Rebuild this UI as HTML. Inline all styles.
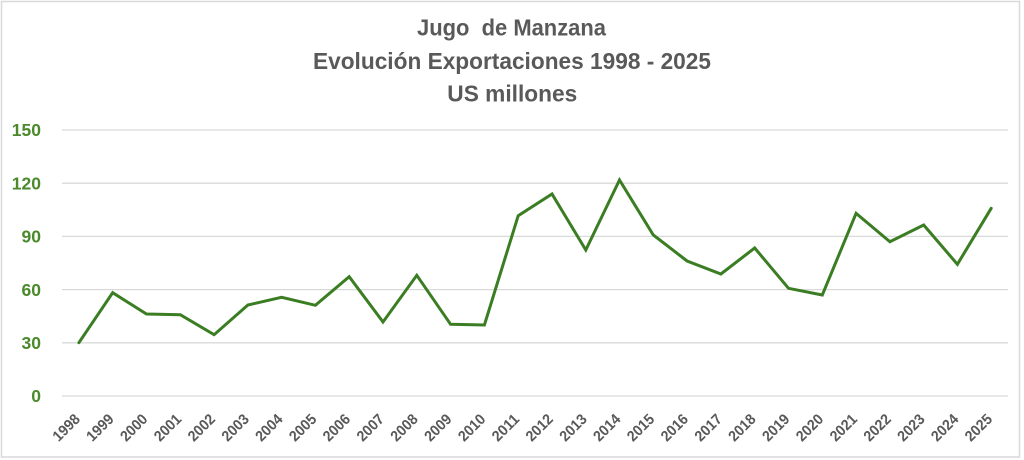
<!DOCTYPE html>
<html>
<head>
<meta charset="utf-8">
<style>
  html,body{margin:0;padding:0;background:#fff;}
  svg{display:block;}
  text{font-family:"Liberation Sans", Arial, sans-serif;}
</style>
</head>
<body>
<svg width="1024" height="460" viewBox="0 0 1024 460" xmlns="http://www.w3.org/2000/svg">
  <rect x="0" y="0" width="1024" height="460" fill="#fff"/>
  <rect x="1.5" y="1.5" width="1018" height="455.5" fill="#fff" stroke="#d9d9d9" stroke-width="1.5"/>

  <!-- Title -->
  <g fill="#595959" font-weight="bold" font-size="23" text-anchor="middle">
    <text x="511.5" y="35.7" textLength="189" lengthAdjust="spacingAndGlyphs" style="white-space:pre">Jugo  de Manzana</text>
    <text x="512" y="69" textLength="398" lengthAdjust="spacingAndGlyphs">Evolución Exportaciones 1998 - 2025</text>
    <text x="512.3" y="101.7" textLength="130" lengthAdjust="spacingAndGlyphs">US millones</text>
  </g>

  <!-- Gridlines -->
  <g stroke="#d9d9d9" stroke-width="1.3">
    <line x1="62" y1="130" x2="1008" y2="130"/>
    <line x1="62" y1="183.2" x2="1008" y2="183.2"/>
    <line x1="62" y1="236.4" x2="1008" y2="236.4"/>
    <line x1="62" y1="289.6" x2="1008" y2="289.6"/>
    <line x1="62" y1="342.8" x2="1008" y2="342.8"/>
    <line x1="62" y1="396" x2="1008" y2="396"/>
  </g>

  <!-- Y labels -->
  <g fill="#4a8a2c" font-weight="bold" font-size="17.5" text-anchor="end">
    <text x="41" y="136.2">150</text>
    <text x="41" y="189.4">120</text>
    <text x="41" y="242.6">90</text>
    <text x="41" y="295.8">60</text>
    <text x="41" y="349">30</text>
    <text x="41" y="402.2">0</text>
  </g>

  <!-- Series -->
  <polyline fill="none" stroke="#3a7d22" stroke-width="3" stroke-linejoin="miter" stroke-linecap="round"
    points="78.9,342.7 112.7,292.7 146.5,314 180.3,314.7 214.1,334.7 247.9,305 281.6,297.3 315.4,305.3 349.2,276.7 383.0,322 416.8,275.3 450.6,324.3 484.4,325 518.2,215.7 552.0,194 585.8,250 619.5,180 653.3,235 687.1,261 720.9,274 754.7,248 788.5,288.3 822.3,295 856.1,213.3 889.9,241.7 923.7,225 957.4,264.3 991.2,208.3"/>

  <!-- X labels -->
  <g fill="#595959" font-weight="bold" font-size="15" text-anchor="end">
    <text transform="translate(80.9,420) rotate(-45)" textLength="31.5" lengthAdjust="spacingAndGlyphs">1998</text>
    <text transform="translate(114.7,420) rotate(-45)" textLength="31.5" lengthAdjust="spacingAndGlyphs">1999</text>
    <text transform="translate(148.5,420) rotate(-45)" textLength="31.5" lengthAdjust="spacingAndGlyphs">2000</text>
    <text transform="translate(182.3,420) rotate(-45)" textLength="31.5" lengthAdjust="spacingAndGlyphs">2001</text>
    <text transform="translate(216.1,420) rotate(-45)" textLength="31.5" lengthAdjust="spacingAndGlyphs">2002</text>
    <text transform="translate(249.9,420) rotate(-45)" textLength="31.5" lengthAdjust="spacingAndGlyphs">2003</text>
    <text transform="translate(283.6,420) rotate(-45)" textLength="31.5" lengthAdjust="spacingAndGlyphs">2004</text>
    <text transform="translate(317.4,420) rotate(-45)" textLength="31.5" lengthAdjust="spacingAndGlyphs">2005</text>
    <text transform="translate(351.2,420) rotate(-45)" textLength="31.5" lengthAdjust="spacingAndGlyphs">2006</text>
    <text transform="translate(385.0,420) rotate(-45)" textLength="31.5" lengthAdjust="spacingAndGlyphs">2007</text>
    <text transform="translate(418.8,420) rotate(-45)" textLength="31.5" lengthAdjust="spacingAndGlyphs">2008</text>
    <text transform="translate(452.6,420) rotate(-45)" textLength="31.5" lengthAdjust="spacingAndGlyphs">2009</text>
    <text transform="translate(486.4,420) rotate(-45)" textLength="31.5" lengthAdjust="spacingAndGlyphs">2010</text>
    <text transform="translate(520.2,420) rotate(-45)" textLength="31.5" lengthAdjust="spacingAndGlyphs">2011</text>
    <text transform="translate(554.0,420) rotate(-45)" textLength="31.5" lengthAdjust="spacingAndGlyphs">2012</text>
    <text transform="translate(587.8,420) rotate(-45)" textLength="31.5" lengthAdjust="spacingAndGlyphs">2013</text>
    <text transform="translate(621.5,420) rotate(-45)" textLength="31.5" lengthAdjust="spacingAndGlyphs">2014</text>
    <text transform="translate(655.3,420) rotate(-45)" textLength="31.5" lengthAdjust="spacingAndGlyphs">2015</text>
    <text transform="translate(689.1,420) rotate(-45)" textLength="31.5" lengthAdjust="spacingAndGlyphs">2016</text>
    <text transform="translate(722.9,420) rotate(-45)" textLength="31.5" lengthAdjust="spacingAndGlyphs">2017</text>
    <text transform="translate(756.7,420) rotate(-45)" textLength="31.5" lengthAdjust="spacingAndGlyphs">2018</text>
    <text transform="translate(790.5,420) rotate(-45)" textLength="31.5" lengthAdjust="spacingAndGlyphs">2019</text>
    <text transform="translate(824.3,420) rotate(-45)" textLength="31.5" lengthAdjust="spacingAndGlyphs">2020</text>
    <text transform="translate(858.1,420) rotate(-45)" textLength="31.5" lengthAdjust="spacingAndGlyphs">2021</text>
    <text transform="translate(891.9,420) rotate(-45)" textLength="31.5" lengthAdjust="spacingAndGlyphs">2022</text>
    <text transform="translate(925.7,420) rotate(-45)" textLength="31.5" lengthAdjust="spacingAndGlyphs">2023</text>
    <text transform="translate(959.4,420) rotate(-45)" textLength="31.5" lengthAdjust="spacingAndGlyphs">2024</text>
    <text transform="translate(993.2,420) rotate(-45)" textLength="31.5" lengthAdjust="spacingAndGlyphs">2025</text>
  </g>
</svg>
</body>
</html>
